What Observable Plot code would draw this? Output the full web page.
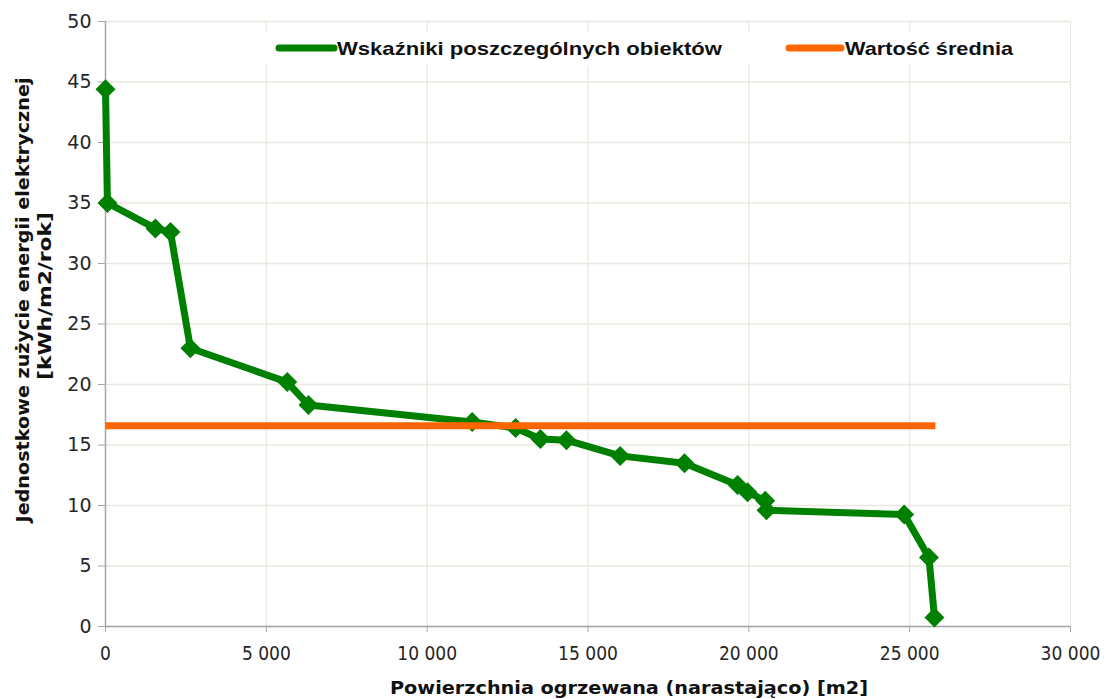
<!DOCTYPE html>
<html>
<head>
<meta charset="utf-8">
<script src="https://cdn.jsdelivr.net/npm/d3@7"></script>
<script src="https://cdn.jsdelivr.net/npm/@observablehq/plot@0.6"></script>
<style>
  html, body { margin: 0; padding: 0; background: #fff; }
  #chart { position: relative; width: 1107px; height: 699px; }
</style>
</head>
<body>
<div id="chart"></div>
<script>
// Cumulative heated area [m2] and unit electricity consumption [kWh/m2/rok]
const areaCum = [0, 60, 1550, 2020, 2640, 5650, 6310, 11400, 12750, 13520, 14330, 16000, 18000, 19650, 19960, 20510, 20550, 24830, 25600, 25770];
const unitUse = [44.4, 35.0, 32.9, 32.6, 23.0, 20.2, 18.3, 16.9, 16.4, 15.5, 15.4, 14.1, 13.5, 11.7, 11.1, 10.4, 9.6, 9.25, 5.7, 0.75];
const meanValue = 16.6;
const meanX = [0, 25800];
const xTicks = [0, 5000, 10000, 15000, 20000, 25000, 30000];
const yTicks = [0, 5, 10, 15, 20, 25, 30, 35, 40, 45, 50];
const seriesNames = ["Wskaźniki poszczególnych obiektów", "Wartość średnia"];
const xTitle = "Powierzchnia ogrzewana (narastająco) [m2]";
const yTitle = ["Jednostkowe zużycie energii elektrycznej", "[kWh/m2/rok]"];

const points = areaCum.map((x, i) => ({x, y: unitUse[i]}));
const meanLine = meanX.map(x => ({x, y: meanValue}));

const GREEN = "#008000", ORANGE = "#ff6600", GRID = "#ebe8df", AXIS = "#a6a6a6";

const fmt = d => d3.format(",")(d).replace(/,/g, " ");

const plot = Plot.plot({
  width: 1107,
  height: 699,
  marginLeft: 105,
  marginRight: 37,
  marginTop: 21,
  marginBottom: 73,
  x: {domain: [0, 30000]},
  y: {domain: [0, 50]},
  style: {background: "#fff"},
  marks: [
    Plot.gridX(xTicks, {stroke: GRID, strokeOpacity: 1, strokeWidth: 1.3}),
    Plot.gridY(yTicks, {stroke: GRID, strokeOpacity: 1, strokeWidth: 1.3}),
    Plot.ruleX([0], {stroke: AXIS, strokeWidth: 1.5}),
    Plot.ruleY([0], {stroke: AXIS, strokeWidth: 1.5}),
    Plot.axisX(xTicks, {tickSize: 6, tickPadding: 14, tickFormat: fmt, stroke: AXIS, fill: "#262626",
      fontSize: 19, fontFamily: "'DejaVu Sans Condensed', 'DejaVu Sans', sans-serif", label: null}),
    Plot.axisY(yTicks, {tickSize: 7, tickPadding: 7, stroke: AXIS, fill: "#262626",
      fontSize: 19, fontFamily: "'DejaVu Sans', Verdana, sans-serif", label: null}),
    Plot.line(points, {x: "x", y: "y", stroke: GREEN, strokeWidth: 7, strokeLinejoin: "round"}),
    Plot.dot(points, {x: "x", y: "y", symbol: "diamond2", r: 9, fill: GREEN, stroke: "none"}),
    Plot.line(meanLine, {x: "x", y: "y", stroke: ORANGE, strokeWidth: 7, strokeLinecap: "butt"})
  ]
});

document.getElementById("chart").appendChild(plot);

const svg = d3.select(plot);

// Legend (inside plot area, white background)
const lg = svg.append("g").attr("text-anchor", "start");
lg.append("rect").attr("x", 262).attr("y", 32).attr("width", 770).attr("height", 33).attr("fill", "#fff");
lg.append("line").attr("x1", 279).attr("x2", 334).attr("y1", 48).attr("y2", 48)
  .attr("stroke", GREEN).attr("stroke-width", 7).attr("stroke-linecap", "round");
lg.append("path").attr("d", d3.symbol(d3.symbolDiamond2, 20)()).attr("transform", "translate(306,48)").attr("fill", GREEN);
lg.append("text").attr("x", 337).attr("y", 48).attr("dy", "0.36em").attr("text-anchor", "start")
  .attr("font-family", "'Liberation Sans', Arial, sans-serif").attr("font-weight", "bold").attr("font-size", 19)
  .attr("textLength", 385).attr("lengthAdjust", "spacingAndGlyphs").attr("fill", "#111")
  .text(seriesNames[0]);
lg.append("line").attr("x1", 789).attr("x2", 841).attr("y1", 48).attr("y2", 48)
  .attr("stroke", ORANGE).attr("stroke-width", 7).attr("stroke-linecap", "round");
lg.append("text").attr("x", 845).attr("y", 48).attr("dy", "0.36em").attr("text-anchor", "start")
  .attr("font-family", "'Liberation Sans', Arial, sans-serif").attr("font-weight", "bold").attr("font-size", 19)
  .attr("textLength", 168).attr("lengthAdjust", "spacingAndGlyphs").attr("fill", "#111")
  .text(seriesNames[1]);

// X title
svg.append("text").attr("x", 629).attr("y", 688).attr("dy", "0.36em").attr("text-anchor", "middle")
  .attr("font-family", "'DejaVu Sans', Verdana, sans-serif").attr("font-weight", "bold").attr("font-size", 17)
  .attr("textLength", 478).attr("lengthAdjust", "spacingAndGlyphs").attr("fill", "#111")
  .text(xTitle);

// Y title (two rotated lines)
const yt = svg.append("g").attr("transform", "translate(0,300) rotate(-90)");
yt.append("text").attr("x", 0).attr("y", 23).attr("dy", "0.36em").attr("text-anchor", "middle")
  .attr("font-family", "'DejaVu Sans', Verdana, sans-serif").attr("font-weight", "bold").attr("font-size", 17)
  .attr("textLength", 445).attr("lengthAdjust", "spacingAndGlyphs").attr("fill", "#111")
  .text(yTitle[0]);
yt.append("text").attr("x", 4).attr("y", 45).attr("dy", "0.36em").attr("text-anchor", "middle")
  .attr("font-family", "'DejaVu Sans', Verdana, sans-serif").attr("font-weight", "bold").attr("font-size", 17)
  .attr("textLength", 168).attr("lengthAdjust", "spacingAndGlyphs").attr("fill", "#111")
  .text(yTitle[1]);
</script>
</body>
</html>
